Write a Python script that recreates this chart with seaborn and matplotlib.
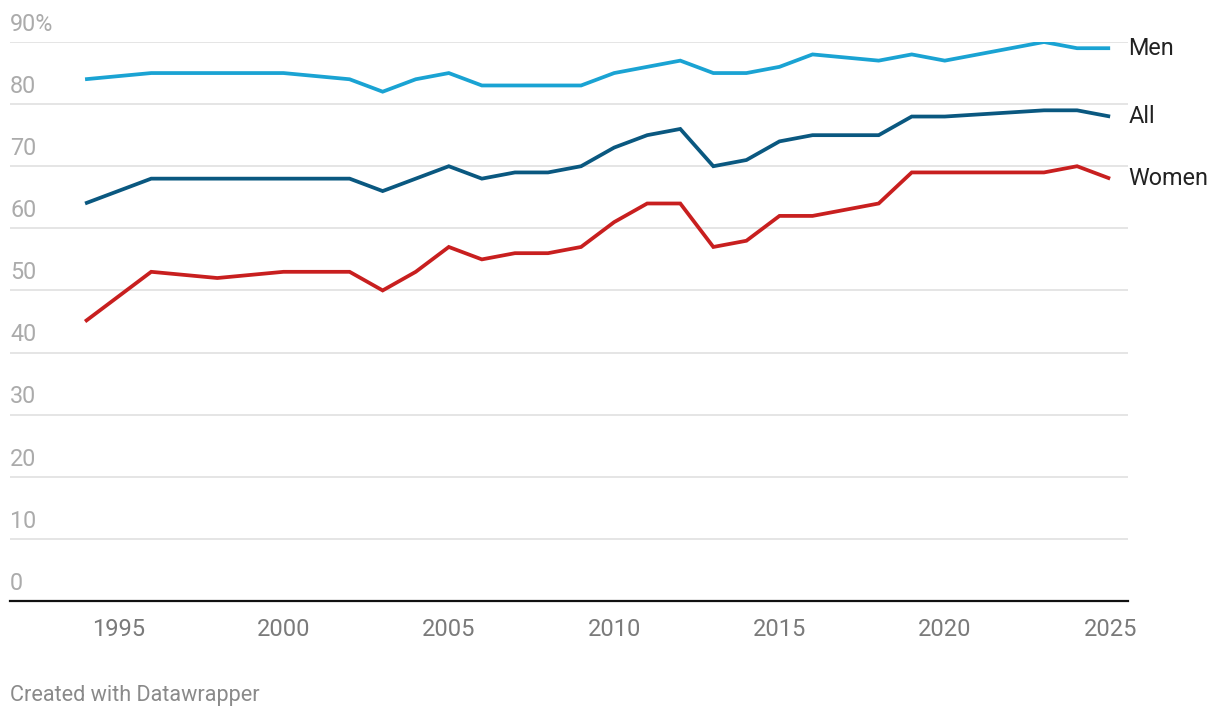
import matplotlib
matplotlib.use("Agg")
import matplotlib.pyplot as plt
import matplotlib.transforms as mtransforms
import pandas as pd
import seaborn as sns

# data
years = [1994, 1996, 1998, 2000, 2002, 2003, 2004, 2005, 2006, 2007, 2008, 2009,
         2010, 2011, 2012, 2013, 2014, 2015, 2016, 2018, 2019, 2020, 2023, 2024, 2025]
men = [84, 85, 85, 85, 84, 82, 84, 85, 83, 83, 83, 83,
       85, 86, 87, 85, 85, 86, 88, 87, 88, 87, 90, 89, 89]
all_ = [64, 68, 68, 68, 68, 66, 68, 70, 68, 69, 69, 70,
        73, 75, 76, 70, 71, 74, 75, 75, 78, 78, 79, 79, 78]
women = [45, 53, 52, 53, 53, 50, 53, 57, 55, 56, 56, 57,
         61, 64, 64, 57, 58, 62, 62, 64, 69, 69, 69, 70, 68]

series_names = ["Men", "All", "Women"]
colors = {"Men": "#1aa3d3", "All": "#0a5880", "Women": "#c81f1f"}
y_ticks = [0, 10, 20, 30, 40, 50, 60, 70, 80, 90]
x_ticks = [1995, 2000, 2005, 2010, 2015, 2020, 2025]

df = pd.concat([
    pd.DataFrame({"year": years, "value": men, "group": "Men"}),
    pd.DataFrame({"year": years, "value": all_, "group": "All"}),
    pd.DataFrame({"year": years, "value": women, "group": "Women"}),
])

sns.set_style("white")
plt.rcParams["font.family"] = ["Roboto", "DejaVu Sans"]

fig = plt.figure(figsize=(12.2, 7.18), dpi=100)
W, H = 1220, 718
ax = fig.add_axes([10 / W, (H - 601) / H, (1128 - 10) / W, (601 - 42) / H])

sns.lineplot(data=df, x="year", y="value", hue="group", hue_order=series_names,
             palette=colors, linewidth=2.7, legend=False, ax=ax,
             solid_joinstyle="miter", solid_capstyle="butt")

ax.set_xlim(1991.73, 2025.54)
ax.set_ylim(0, 90)

# gridlines
for v in y_ticks[1:]:
    ax.axhline(v, color="#e3e3e3", linewidth=1.3, zorder=0)
ax.set_yticks([])
for s in ["left", "right", "top"]:
    ax.spines[s].set_visible(False)
ax.spines["bottom"].set_color("#111111")
ax.spines["bottom"].set_linewidth(1.6)

# y labels above the gridlines
trans = mtransforms.blended_transform_factory(ax.transAxes, ax.transData)
for v in y_ticks:
    lab = f"{v}%" if v == 90 else str(v)
    ax.text(0, v + 1.0, lab, transform=trans, ha="left", va="bottom",
            fontsize=16.8, color="#ababab")

ax.set_xticks(x_ticks)
ax.set_xticklabels([str(x) for x in x_ticks])
ax.tick_params(axis="x", length=0, pad=12.5, labelsize=17, labelcolor="#7a7a7a")
ax.set_xlabel("")
ax.set_ylabel("")

# direct labels at the line ends
for name, vals in zip(series_names, [men, all_, women]):
    ax.annotate(name, xy=(years[-1], vals[-1]), xytext=(13, 0),
                textcoords="offset points", ha="left", va="center",
                fontsize=16.8, color="#222222", annotation_clip=False)

fig.text(10 / W, 1 - 696 / H, "Created with Datawrapper", ha="left", va="center",
         fontsize=15.6, color="#8a8a8a")

fig.savefig("out.png", dpi=100)
